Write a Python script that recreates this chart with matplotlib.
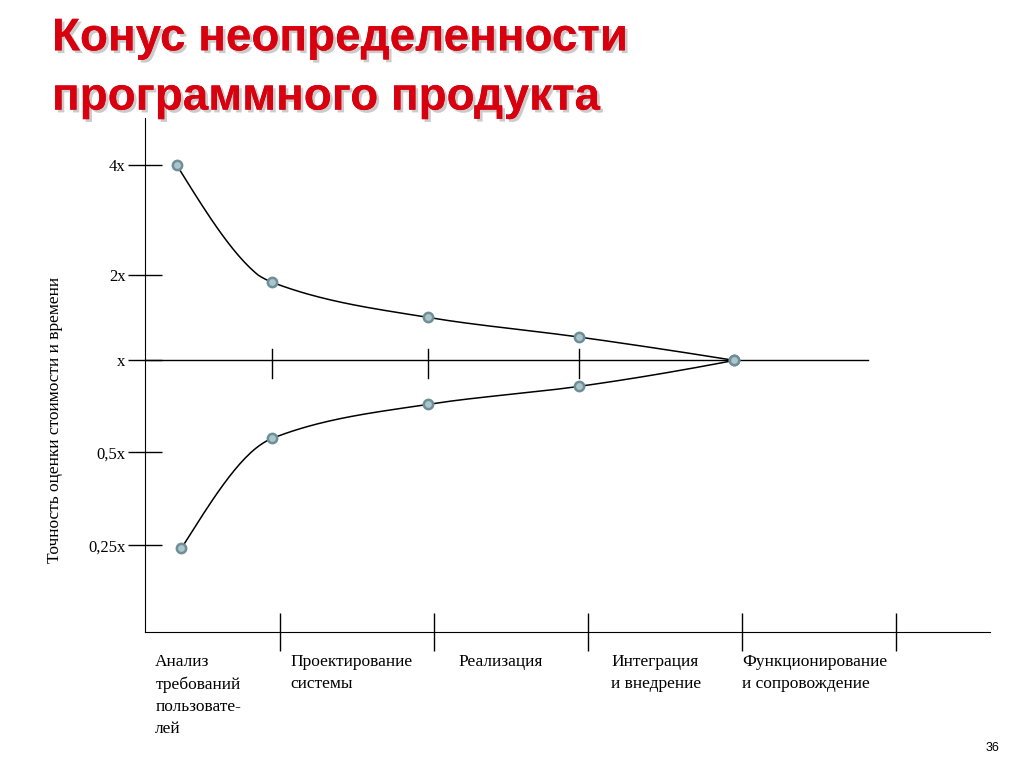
import numpy as np
import matplotlib
matplotlib.use("Agg")
import matplotlib.pyplot as plt
import matplotlib.patheffects as pe

# data
stage_x = [0.33, 0.95, 1.96, 2.94, 3.95]
upper = [4.0, 1.89, 1.42, 1.21, 1.0]
lower_x = [0.36, 0.95, 1.96, 2.94, 3.95]
lower = [0.245, 0.556, 0.718, 0.822, 1.0]
ytick_vals = [4, 2, 1, 0.5, 0.25]
ytick_labels = ["4x", "2x", "x", "0,5x", "0,25x"]
phase_bounds = [1, 2, 3, 4, 5]
phase_labels = ["Анализ\nтребований\nпользовате-\nлей", "Проектирование\nсистемы", "Реализация",
                "Интеграция\nи внедрение", "Функционирование\nи сопровождение"]
phase_label_x = [0.19, 1.07, 2.16, 3.15, 4.0]

serif = ["Liberation Serif", "DejaVu Serif"]

# axis spacing of the original (log2 level -> display units)
knot_in = [-12, -2, -1, 0, 1, 2, 12]
knot_out = [-2.056 - 10*1.034, -2.056, -1.022, 0, 0.944, 2.167, 2.167 + 10*1.223]
fwd = lambda v: np.interp(v, knot_in, knot_out)
inv = lambda v: np.interp(v, knot_out, knot_in)

fig = plt.figure(figsize=(10.24, 7.67), dpi=100)
ax = fig.add_axes([145/1024, 1-632/767, (990-145)/1024, (632-118)/767])
ax.set_yscale("function", functions=(fwd, inv))
ax.set_xlim(0.123, 5.61)
ax.set_ylim(-2.93, 2.43)
for s in ["top", "right"]:
    ax.spines[s].set_visible(False)

def pchip(xs, ys, n=200):
    x = np.asarray(xs, float); y = np.asarray(ys, float)
    h = np.diff(x); d = np.diff(y) / h
    m = np.zeros_like(y)
    for k in range(1, len(x)-1):
        if d[k-1]*d[k] > 0:
            w1 = 2*h[k] + h[k-1]; w2 = h[k] + 2*h[k-1]
            m[k] = (w1 + w2) / (w1/d[k-1] + w2/d[k])
    m[0] = ((2*h[0]+h[1])*d[0] - h[0]*d[1]) / (h[0]+h[1])
    if np.sign(m[0]) != np.sign(d[0]): m[0] = 0
    elif abs(m[0]) > 3*abs(d[0]): m[0] = 3*d[0]
    m[-1] = ((2*h[-1]+h[-2])*d[-1] - h[-1]*d[-2]) / (h[-1]+h[-2])
    if np.sign(m[-1]) != np.sign(d[-1]): m[-1] = 0
    xx = np.linspace(x[0], x[-1], n)
    k = np.clip(np.searchsorted(x, xx) - 1, 0, len(x)-2)
    t = (xx - x[k]) / h[k]
    h00 = 2*t**3 - 3*t**2 + 1; h10 = t**3 - 2*t**2 + t
    h01 = -2*t**3 + 3*t**2; h11 = t**3 - t**2
    yy = h00*y[k] + h10*h[k]*m[k] + h01*y[k+1] + h11*h[k]*m[k+1]
    return xx, yy

for xs, vals in [(stage_x, upper), (lower_x, lower)]:
    ly = np.log2(vals)
    cx, cy = pchip(xs, ly)
    ax.plot(cx, cy, color="black", lw=1.1, zorder=2)
    ax.scatter(xs, ly, s=45, facecolor="#a9c6cc", edgecolor="#6f8e96", lw=1.8, zorder=3)

ax.plot([0.123, 4.82], [0, 0], color="black", lw=1.0)
for u in stage_x[1:4]:
    ax.plot([u, u], [-0.19, 0.13], color="black", lw=1.0)

ax.set_yticks(np.log2(ytick_vals))
ax.set_yticklabels(ytick_labels, family=serif, fontsize=12)
ax.yaxis.set_minor_locator(matplotlib.ticker.NullLocator())
ax.tick_params(axis="y", direction="inout", length=24, width=1, pad=2)
ax.set_xticks(phase_bounds)
ax.set_xticklabels([])
ax.tick_params(axis="x", direction="inout", length=28, width=1)

for x, t in zip(phase_label_x, phase_labels):
    ax.text(x, -3.17, t, ha="left", va="top", family=serif, fontsize=12.5, linespacing=1.5)

fig.text(55/1024, 1-420/767, "Точность оценки стоимости и времени", rotation=90,
         ha="center", va="center", family=serif, fontsize=12.5)

fig.text(52/1024, 1-68/767, "Конус неопределенности\nпрограммного продукта", ha="left", va="center",
         fontsize=33, fontweight="bold", family=["Liberation Sans", "DejaVu Sans"], color="#d8000f",
         linespacing=1.45,
         path_effects=[pe.withSimplePatchShadow(offset=(2, -2), shadow_rgbFace="#999999", alpha=0.5), pe.Normal()])
fig.text(993/1024, 1-748/767, "36", ha="center", va="center", fontsize=9, family=["Liberation Sans"])

fig.savefig("out.png", dpi=100)
